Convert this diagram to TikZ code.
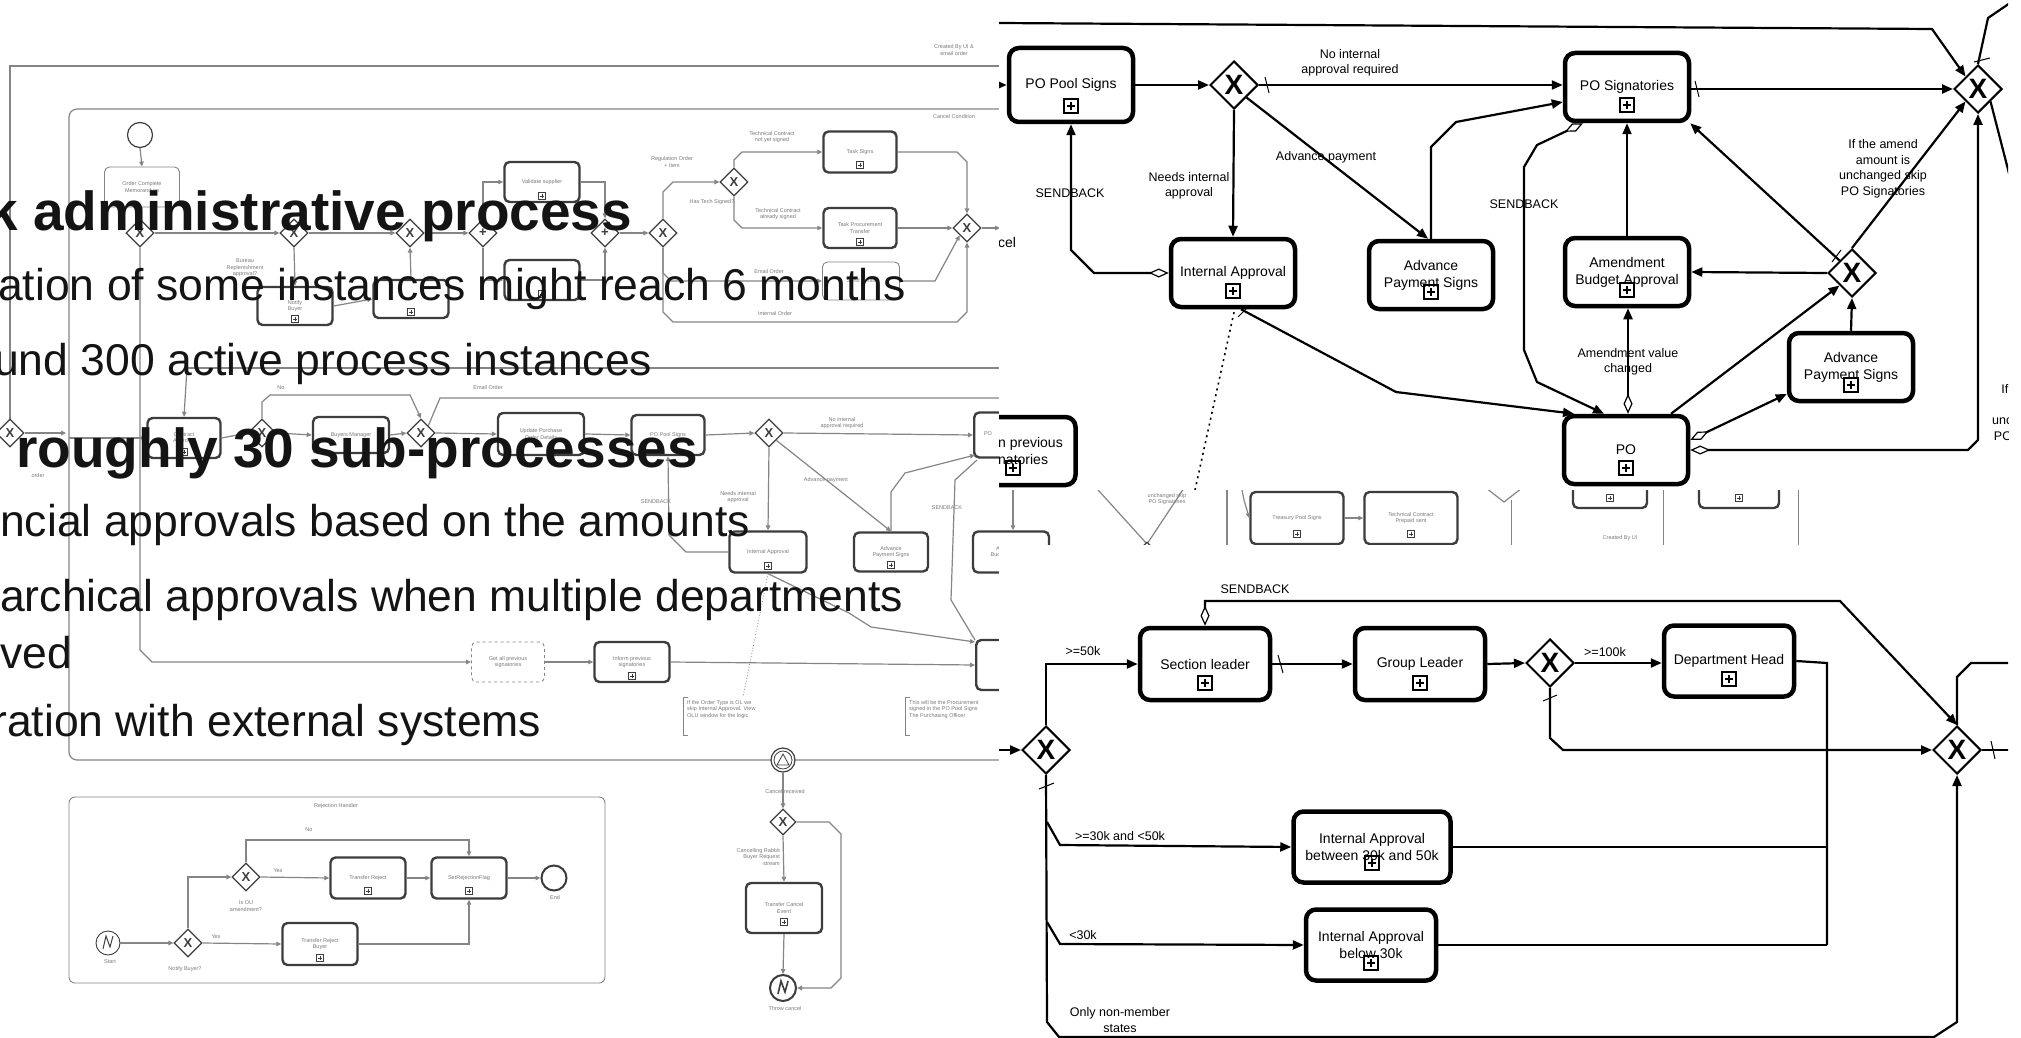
\documentclass[tikz,border=0pt]{standalone}
\usepackage{fontspec}
\setmainfont{Liberation Sans}
\usetikzlibrary{arrows.meta,shapes.geometric,calc}
\definecolor{bgline}{gray}{0.52}
\definecolor{bgdark}{gray}{0.24}
\definecolor{bgtxt}{gray}{0.48}
\definecolor{ink}{gray}{0.08}
\begin{document}
\begin{tikzpicture}[x=1pt,y=-1pt,
  flow/.style={line width=2.2pt,-{Triangle[length=11pt,width=9pt]}},
  seg/.style={line width=2.2pt},
  cond/.style={line width=2.2pt,{Diamond[open,length=20pt,width=9pt,line width=1.2pt]}-{Triangle[length=11pt,width=9pt]}},
  task/.style={rectangle,rounded corners=10pt,draw,line width=4.5pt,minimum width=124pt,minimum height=68pt,inner sep=0pt,align=center,font=\fontsize{14}{17}\selectfont},
  gate/.style={diamond,aspect=1,draw,line width=2pt,fill=white,minimum width=48pt,minimum height=48pt,inner sep=0pt,font=\fontsize{28}{28}\selectfont\bfseries},
  lbl/.style={font=\fontsize{12.5}{15.5}\selectfont,align=center,inner sep=0pt},
  plusm/.style={draw,line width=1.1pt,minimum size=14pt,inner sep=0pt,
    path picture={\draw[line width=1.4pt]
      ($(path picture bounding box.west)+(3,0)$)--($(path picture bounding box.east)+(-3,0)$)
      ($(path picture bounding box.north)+(0,3)$)--($(path picture bounding box.south)+(0,-3)$);}},
  dflt/.style={line width=1pt},
  bgl/.style={draw=bgline,line width=1.2pt},
  bgf/.style={draw=bgline,line width=1.2pt,-{Triangle[length=5pt,width=4.5pt]}},
  bgtask/.style={rectangle,rounded corners=5pt,draw=bgdark,line width=2.4pt,minimum width=75pt,minimum height=40pt,inner sep=1pt,align=center,font=\fontsize{5.5}{6.5}\selectfont,text=bgtxt},
  bgthin/.style={bgtask,line width=0.9pt,draw=bgline},
  bggate/.style={diamond,aspect=1,draw=bgdark,line width=1.2pt,fill=white,minimum width=28pt,minimum height=28pt,inner sep=0pt,font=\fontsize{13}{13}\selectfont\bfseries,text=bgdark},
  bgplus/.style={draw=bgdark,line width=0.6pt,minimum size=7pt,inner sep=0pt,
    path picture={\draw[bgdark,line width=0.7pt]
      ($(path picture bounding box.west)+(1.5,0)$)--($(path picture bounding box.east)+(-1.5,0)$)
      ($(path picture bounding box.north)+(0,1.5)$)--($(path picture bounding box.south)+(0,-1.5)$);}},
  bgtx/.style={font=\fontsize{5.5}{6.5}\selectfont,text=bgtxt,align=center,inner sep=0pt},
  bgev/.style={circle,draw=bgdark,line width=1.2pt,fill=white,minimum size=25pt,inner sep=0pt},
  headb/.style={font=\fontsize{55}{60}\selectfont\bfseries,anchor=base west,inner sep=0pt,text=ink},
  headr/.style={font=\fontsize{44.5}{50}\selectfont,anchor=base west,inner sep=0pt,text=ink},
]
\useasboundingbox (0,0) rectangle (2021,1038);
\clip (0,0) rectangle (2021,1038);
\fill[white] (0,0) rectangle (2021,1038);

%% ---------- overall process (light background diagram) ----------
\draw[bgl] (1000,66) -- (10,66) -- (10,419);
\node[bggate] (bL) at (10,433) {X};
\draw[bgf] (bL.east) -- (66,433);
\node[bgtx] at (38,476) {order};
\draw[bgl,rounded corners=8pt] (1000,109) -- (69,109) -- (69,760) -- (1000,760);
\node[bgtx] at (954,50) {Created By UI \&\\email order};
\node[bgtx] at (954,117) {Cancel Condition};

% first row
\node[bgev] (bst) at (140,135) {};
\node[bgthin] (b0) at (142,187) {Order Complete\\Memorandum};
\draw[bgf] (bst.south) -- (b0.north);
\node[bggate] (bA) at (140,233) {X};
\draw[bgl] (b0.south) -- (bA.north);
\node[bggate] (bB) at (294,233) {X};
\draw[bgf] (bA.east) -- (bB.west);
\node[bgtx] at (245,268) {Bureau\\Replenishment\\approval?};
\node[bgtask,minimum height=38pt] (brb) at (295,306) {Notify\\Buyer};
\node[bgplus] at (295,319) {};
\draw[bgf] (bB.south) -- (brb.north);
\node[bgtask,minimum height=38pt] (br2) at (411,299) {};
\node[bgplus] at (411,312) {};
\draw[bgf] (brb.east) -- (br2.west);
\node[bggate] (bC) at (410,233) {X};
\draw[bgf] (br2.north) -- (bC.south);
\draw[bgf] (bB.east) -- (bC.west);
\node[bggate] (bD) at (483,233) {+};
\draw[bgf] (bC.east) -- (bD.west);
\node[bgtask] (bva) at (542,182) {Validate supplier};
\node[bgplus] at (542,196) {};
\node[bgtask] (bv2) at (542,280) {};
\node[bgplus] at (542,294) {};
\draw[bgf] (bD.north) |- (bva.west);
\draw[bgf] (bD.south) |- (bv2.west);
\node[bggate] (bE) at (605,233) {+};
\draw[bgf] (bva.east) -| (bE.north);
\draw[bgf] (bv2.east) -| (bE.south);
\node[bggate] (bF) at (663,233) {X};
\draw[bgf] (bE.east) -- (bF.west);
\node[bggate] (bG) at (734,182) {X};
\draw[bgf] (bF.north) -- (663,192) -- (673,182) -- (bG.west);
\node[bgtx] at (672,162) {Regulation Order\\+ Item};
\node[bgtx] at (712,202) {Has Tech Signed?};
\node[bgtask,minimum width=73pt,minimum height=41pt] (bts) at (860,152) {Task Signs};
\node[bgplus] at (860,165) {};
\node[bgtask,minimum width=73pt] (btp) at (860,228) {Task Procurement\\Transfer};
\node[bgplus] at (860,242) {};
\node[bgthin,minimum width=77pt,minimum height=38pt] (bte) at (861,281) {Send Email};
\draw[bgf] (bG.north) -- (734,160) -- (742,152) -- (bts.west);
\node[bgtx] at (772,137) {Technical Contract\\not yet signed};
\draw[bgf] (bG.south) -- (734,220) -- (742,228) -- (btp.west);
\node[bgtx] at (778,214) {Technical Contract\\already signed};
\draw[bgf] (bF.south) -- (663,273) -- (671,281) -- (bte.west);
\node[bgtx] at (769,272) {Email Order};
\node[bggate] (bH) at (967,228) {X};
\draw[bgf] (bF.south) -- (663,312) -- (673,322) -- (957,322) -- (967,312) -- (bH.south);
\node[bgtx] at (775,314) {Internal Order};
\draw[bgf] (bts.east) -- (957,152) -- (967,162) -- (bH.north);
\draw[bgf] (btp.east) -- (bH.west);
\draw[bgf] (bte.east) -- (935,281) -- (bH.south west);
\draw[bgf] (bH.east) -- (1000,228);

% second row
\draw[bgl,line width=2.4pt] (187,368) -- (1000,368);
\node[bgtask,minimum width=73pt] (bc) at (184,438) {Contract\\Approval};
\node[bgplus] at (184,452) {};
\draw[bgf] (187,368) -- (bc.north);
\draw[bgf] (69,438) -- (bc.west);
\node[bggate] (bM) at (262,433) {X};
\draw[bgf] (bc.east) -- (bM.west);
\node[bgtask,minimum width=76pt,minimum height=36pt] (bbm) at (351,435) {Buyers Manager};
\draw[bgf] (bM.east) -- (bbm.west);
\node[bggate] (bN) at (421,433) {X};
\draw[bgf] (bbm.east) -- (bN.west);
\draw[bgf] (bM.north) -- (262,402) -- (270,395) -- (410,395) -- (bN.north);
\node[bgtx] at (281,388) {No};
\draw[bgl] (bN.north east) -- (440,398) -- (1000,398);
\node[bgtx] at (488,388) {Email Order};
\node[bgtask,minimum width=86pt,minimum height=42pt] (bup) at (541,434) {Update Purchase\\Order Details};
\draw[bgf] (bN.east) -- (bup.west);
\node[bgtask,minimum width=73pt] (bpps) at (668,435) {PO Pool Signs};
\draw[bgf] (bup.east) -- (bpps.west);
\node[bggate] (bO) at (769,433) {X};
\draw[bgf] (bpps.east) -- (bO.west);
\node[bgtx] at (842,423) {No internal\\approval required};
\node[bgtask,anchor=west,minimum width=70pt,minimum height=45pt] (bpo) at (973,435) {};
\node[bgtx] at (988,434) {PO};
\draw[bgf] (bO.east) -- (bpo.west);
\node[bgtask,minimum width=77pt,minimum height=41pt] (bia) at (768,552) {Internal Approval};
\node[bgplus] at (768,566) {};
\draw[bgf] (bO.south) -- (bia.north);
\node[bgtx] at (738,497) {Needs internal\\approval};
\node[bgtask,minimum width=74pt,minimum height=39pt] (baps) at (891,552) {Advance\\Payment Signs};
\node[bgplus] at (891,565) {};
\draw[bgf] (bO.south east) -- (baps.north);
\node[bgtx] at (826,480) {Advance payment};
\draw[bgf] (bia.west) -- (686,552) -- (669,535) -- (bpps.south);
\node[bgtx] at (656,502) {SENDBACK};
\draw[bgf] (baps.north) -- (891,492) -- (905,473) -- (975,455);
\node[bgtx] at (947,508) {SENDBACK};
\draw[bgl] (977,460) -- (955,480) -- (951,600) -- (975,640);
\draw[bgf] (bia.south) -- (849,613) -- (871,627) -- (975,642);
\node[bgtask,minimum width=76pt,minimum height=41pt] (baba) at (1011,552) {Amendment\\Budget Approval};
\draw[bgf] (1013,458) -- (baba.north -| 1013,0);
\draw[bgline,line width=0.8pt,dotted] (bia.south) -- (743,697);

% third row
\node[bgthin,dashed,minimum width=73pt] (bgap) at (508,662) {Get all previous\\signatories};
\draw[bgf] (bA.south) -- (140,650) -- (152,662) -- (bgap.west);
\node[bgtask,minimum width=75pt] (bips) at (632,662) {Inform previous\\signatories};
\node[bgplus] at (632,676) {};
\draw[bgf] (bgap.east) -- (bips.west);
\node[bgtask,anchor=west,minimum width=70pt,minimum height=50pt] (bpo2) at (975,665) {};
\draw[bgf] (bips.east) -- (bpo2.west);
\draw[bgline,line width=0.8pt] (688,697) -- (683,697) -- (683,735) -- (688,735);
\node[bgtx,anchor=north west,align=left] at (687,700) {If the Order Type is OL we\\skip Internal Approval. View\\OLU window for the logic.};
\draw[bgline,line width=0.8pt] (910,697) -- (905,697) -- (905,735) -- (910,735);
\node[bgtx,anchor=north west,align=left] at (909,700) {This will be the Procurement\\signed in the PO Pool Signs\\The Purchasing Officer};

% cancel handling
\node[bgev,minimum size=24pt] (bce) at (783,760) {};
\node[circle,draw=bgdark,line width=0.8pt,minimum size=18pt] at (783,760) {};
\draw[bgdark,line width=0.8pt] (777,765) -- (783,754) -- (789,765) -- cycle;
\node[bggate,minimum width=26pt,minimum height=26pt] (bcg) at (783,822) {X};
\draw[bgf] (bce.south) -- (bcg.north);
\node[bgtx] at (785,792) {Cancel received};
\node[bgtask,minimum width=76pt,minimum height=50pt] (btce) at (784,908) {Transfer Cancel\\Event};
\node[bgplus] at (784,922) {};
\draw[bgf] (bcg.south) -- (btce.north);
\node[bgtx,anchor=east,align=right] at (780,857) {Cancelling Rabbit\\Buyer Request\\stream};
\node[bgev,line width=2pt,minimum size=26pt] (bthr) at (783,988) {};
\draw[bgdark,line width=1.6pt] (778,994) -- (781,981) -- (785,992) -- (788,981);
\draw[bgf] (btce.south) -- (bthr.north);
\node[bgtx] at (785,1009) {Throw cancel};
\draw[bgf] (bcg.east) -- (829,822) -- (841,834) -- (841,978) -- (831,988) -- (bthr.east);

% rejection handler
\draw[bgline,line width=0.9pt,rounded corners=6pt] (69,797) rectangle (605,983);
\node[bgtx] at (336,806) {Rejection Handler};
\node[bgev,minimum size=24pt,line width=0.9pt] (bs) at (108,943) {};
\draw[bgdark,line width=1pt] (103,949) -- (106,936) -- (110,947) -- (113,936);
\node[bgtx] at (110,962) {Start};
\node[bggate] (bq) at (188,943) {X};
\draw[bgf] (bs.east) -- (bq.west);
\node[bgtx] at (185,969) {Notify Buyer?};
\node[bgtask,minimum height=42pt] (btrb) at (320,944) {Transfer Reject\\Buyer};
\node[bgplus] at (320,958) {};
\draw[bgf] (bq.east) -- (btrb.west);
\node[bgtx] at (216,937) {Yes};
\node[bggate] (br) at (246,877) {X};
\draw[bgf] (bq.north) |- (br.west);
\node[bgtx] at (246,906) {Is OU\\amendment?};
\node[bgtask,minimum height=41pt] (btr) at (368,878) {Transfer Reject};
\node[bgplus] at (368,891) {};
\draw[bgf] (br.east) -- (btr.west);
\node[bgtx] at (278,871) {Yes};
\node[bgtask,minimum height=41pt] (bers) at (469,878) {SetRejectionFlag};
\node[bgplus] at (469,891) {};
\draw[bgf] (btr.east) -- (bers.west);
\draw[bgf] (br.north) |- (469,840) -- (bers.north);
\node[bgtx] at (309,830) {No};
\draw[bgf] (btrb.east) -| (bers.south);
\node[bgev,line width=2pt] (bend) at (554,878) {};
\draw[bgf] (bers.east) -- (bend.west);
\node[bgtx] at (555,898) {End};

% part of the diagram further right
\draw[bgl] (1080,470) -- (1147,544) -- (1196,470);
\node[bggate] (bV) at (1147,556) {};
\node[bgtx] at (1167,499) {unchanged skip\\PO Signatories};
\draw[bgl] (1227,470) -- (1227,560);
\node[bgtask,minimum width=93pt,minimum height=52pt] (btps) at (1297,518) {Treasury Pool Signs};
\node[bgplus] at (1297,534) {};
\node[bgtask,minimum width=93pt,minimum height=52pt] (btcp) at (1411,518) {Technical Contract\\Prepaid sent};
\node[bgplus] at (1411,534) {};
\draw[bgf] (btps.east) -- (btcp.west);
\draw[bgf] (1240,480) -- (1244,500) -- (btps.west);
\draw[bgl] (1486,488) -- (1504,502) -- (1522,488);
\draw[bgline,line width=0.8pt] (1511,500) -- (1511,560);
\node[bgtask,minimum width=74pt,minimum height=52pt] (bsg1) at (1610,482) {Signs};
\node[bgplus] at (1610,498) {};
\node[bgtask,minimum width=80pt,minimum height=52pt] (bsg2) at (1739,482) {Signs};
\node[bgplus] at (1739,498) {};
\draw[bgline,line width=0.8pt] (1663,470) -- (1663,560);
\draw[bgline,line width=0.8pt] (1798,470) -- (1798,560);
\node[bgtx] at (1620,538) {Created By UI};

%% ---------- slide text ----------
\node[headb] at (-13,230) {k administrative process};
\node[headr] at (-2,300) {ation of some instances might reach 6 months};
\node[headr] at (-6,375) {und 300 active process instances};
\node[headb] at (16,467) {roughly 30 sub-processes};
\node[headr] at (0,536) {ncial approvals based on the amounts};
\node[headr] at (0,611) {archical approvals when multiple departments};
\node[headr] at (0,668) {ved};
\node[headr] at (-8,736) {ration with external systems};

%% ---------- PO signing process ----------
\fill[white] (999,0) rectangle (2021,490);
\begin{scope}
\clip (999,0) rectangle (2008,490);
\node[task,minimum height=74pt] (pps) at (1071,85) {PO Pool Signs};
\node[plusm] at (1071,106) {};
\node[gate] (xa) at (1234,85) {X};
\node[task] (psig) at (1627,87) {PO Signatories};
\node[plusm] at (1627,105) {};
\node[gate] (xz) at (1978,89) {X};
\node[task] (ia) at (1233,273) {Internal Approval};
\node[plusm] at (1233,291) {};
\node[task] (aps) at (1431,275) {Advance\\Payment Signs};
\node[plusm] at (1431,292) {};
\node[task] (aba) at (1627,272) {Amendment\\Budget Approval};
\node[plusm] at (1627,290) {};
\node[gate] (xb) at (1852,273) {X};
\node[task] (apt) at (1851,367) {Advance\\Payment Signs};
\node[plusm] at (1851,385) {};
\node[task] (po) at (1626,450) {PO};
\node[plusm] at (1626,468) {};
\node[task,minimum width=135pt] (prev) at (1008,451) {};
\node[font=\fontsize{14}{14}\selectfont,anchor=base west,inner sep=0pt] at (998,447) {n previous};
\node[font=\fontsize{14}{14}\selectfont,anchor=base west,inner sep=0pt] at (998,464) {natories};
\node[plusm] at (1013,468) {};
\node[font=\fontsize{14}{14}\selectfont,anchor=west,inner sep=0pt] at (998,242) {cel};

\draw[flow] (999,85) -- (pps.west);
\draw[flow] (pps.east) -- (xa.west);
\draw[flow] (xa.east) -- (psig.west |- xa.east);
\draw[dflt] (1265,77) -- (1269,93);
\node[lbl] at (1350,63) {No internal\\approval required};
\draw[flow] (xa.south) -- (ia.north);
\node[lbl] at (1189,186) {Needs internal\\approval};
\draw[flow] (xa.south east) -- ([xshift=-3pt]aps.north);
\node[lbl] at (1326,157) {Advance payment};
\draw[flow] (aps.north) -- (1431,147) -- (1456,122) -- ($(psig.west)+(0,15)$);
\draw[cond] (ia.west) -- (1094,273) -- (1071,250) -- (pps.south);
\node[lbl] at (1070,193) {SENDBACK};
\draw[flow] ([xshift=8pt]ia.south) -- (1396,392) -- ([xshift=-52pt]po.north);
\draw[dflt] (1238,317) -- (1246,309);
\draw[line width=1.6pt,dash pattern=on 2pt off 4pt] ($(ia.south)+(1,3)$) -- (1195,490);
\draw[cond] ([xshift=-44pt]psig.south) -- (1537,145) -- (1524,167) -- (1524,350) -- (1537,382) -- ([xshift=-22pt]po.north);
\node[lbl] at (1524,204) {SENDBACK};
\draw[cond] ([xshift=2pt]po.north) -- ([xshift=1pt]aba.south);
\node[lbl] at (1628,362) {Amendment value\\changed};
\draw[flow] (aba.north) -- (psig.south);
\draw[flow] ([xshift=45pt]po.north) -- (xb.south west);
\draw[cond] ($(po.east)+(0,-10)$) -- ($(apt.west)+(0,27)$);
\draw[flow] (apt.north) -- (xb.south);
\draw[flow] (xb.west) -- (aba.east);
\draw[flow] (xb.north west) -- ($(psig.south east)+(-1,0)$);
\draw[dflt] (1832,262) -- (1841,250);
\draw[flow] (xb.north) -- (xz.south west);
\node[lbl] at (1883,169) {If the amend\\amount is\\unchanged skip\\PO Signatories};
\draw[flow] (psig.east |- xz.west) -- (xz.west);
\draw[dflt] (1695,81) -- (1699,97);
\draw[cond] (po.east) -- (1968,450) -- (1978,440) -- (xz.south);
\draw[flow] (999,23) -- (1932,29) -- (xz.north west);
\draw[seg] (xz.north) -- (1988,18) -- (2010,3);
\draw[dflt] (1974,62) -- (1990,58);
\draw[seg] (xz.south east) -- (2012,185);
\node[lbl] at (2036,414) {If the amend\\amount is\\unchanged skip\\PO Signatories};
\end{scope}

%% ---------- internal approval process ----------
\fill[white] (999,545) rectangle (2021,1038);
\begin{scope}
\clip (999,545) rectangle (2008,1038);
\node[gate] (g1) at (1046,750) {X};
\node[task,minimum width=130pt,minimum height=72pt] (sl) at (1205,664) {Section leader};
\node[plusm] at (1205,683) {};
\node[task,minimum width=130pt,minimum height=72pt] (gl) at (1420,664) {Group Leader};
\node[plusm] at (1420,683) {};
\node[gate] (g2) at (1550,663) {X};
\node[task,minimum width=130pt,minimum height=71pt] (dh) at (1729,661) {Department Head};
\node[plusm] at (1729,679) {};
\node[gate] (g3) at (1957,750) {X};
\node[task,minimum width=157pt,minimum height=71pt] (iab) at (1372,847) {Internal Approval\\between 30k and 50k};
\node[plusm] at (1372,863) {};
\node[task,minimum width=130pt,minimum height=71pt] (iac) at (1371,945) {Internal Approval\\below 30k};
\node[plusm] at (1371,963) {};
\coordinate (sp1) at (1047,822);
\coordinate (sp2) at (1047,922);

\draw[flow] (999,750) -- (g1.west);
\draw[flow] (g1.north) |- (sl.west);
\node[lbl] at (1083,651) {>=50k};
\draw[flow] (sl.east) -- (gl.west);
\draw[dflt] (1278,655) -- (1283,673);
\draw[flow] (gl.east) -- (g2.west);
\draw[flow] (g2.east) -- (dh.west |- g2.east);
\node[lbl] at (1605,652) {>=100k};
\draw[flow] (g2.south) -- (1550,738) -- (1563,750) -- (g3.west);
\draw[dflt] (1543,701) -- (1557,695);
\draw[seg] (dh.east) -- (1827,663) -- (1827,945);
\draw[seg] (iab.east) -- (iab.east -| 1827,0);
\draw[seg] (iac.east) -- (iac.east -| 1827,0);
\draw[cond] (sl.north) -- (1205,601) -- (1840,601) -- (g3.north);
\node[lbl] at (1255,589) {SENDBACK};
\draw[flow] (g1.south) -- (1047,1022) -- (1059,1037) -- (1934,1037) -- (1957,1022) -- (g3.south);
\draw[dflt] (1039,789) -- (1054,783);
\node[lbl] at (1120,1020) {Only non-member\\states};
\draw[flow] (sp1) -- (1060,845) -- (iab.west);
\node[lbl] at (1120,836) {>=30k and <50k};
\draw[flow] (sp2) -- (1060,944) -- (iac.west);
\node[lbl] at (1083,935) {<30k};
\draw[seg] (g3.east) -- (2012,750);
\draw[dflt] (1991,741) -- (1995,759);
\draw[seg] (g3.north) -- (1957,677) -- (1971,663) -- (2012,663);
\end{scope}
\end{tikzpicture}
\end{document}
